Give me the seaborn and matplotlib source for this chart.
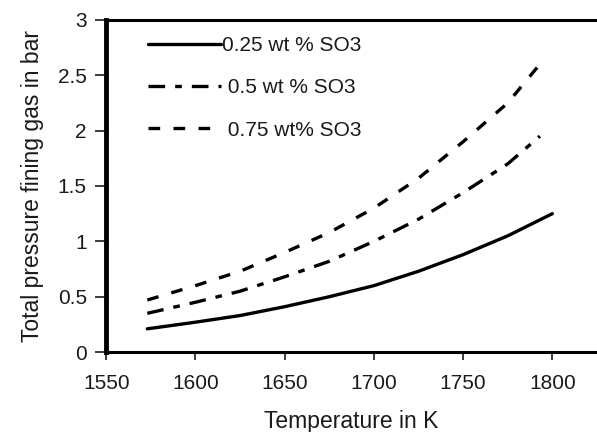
import pandas as pd
import matplotlib.pyplot as plt
import seaborn as sns

# Values
temps = [1573, 1600, 1625, 1650, 1675, 1700, 1725, 1750, 1775, 1793]
temps_low = [1573, 1600, 1625, 1650, 1675, 1700, 1725, 1750, 1775, 1800]
p_025 = [0.21, 0.27, 0.33, 0.41, 0.50, 0.60, 0.73, 0.88, 1.05, 1.25]
p_050 = [0.35, 0.45, 0.55, 0.68, 0.82, 1.00, 1.20, 1.44, 1.70, 1.95]
p_075 = [0.47, 0.60, 0.73, 0.90, 1.08, 1.30, 1.57, 1.90, 2.25, 2.60]
labels = ["0.25 wt % SO3", " 0.5 wt % SO3", " 0.75 wt% SO3"]


def build_frame():
    frames = [
        pd.DataFrame({"T": temps_low, "p": p_025, "series": labels[0]}),
        pd.DataFrame({"T": temps, "p": p_050, "series": labels[1]}),
        pd.DataFrame({"T": temps, "p": p_075, "series": labels[2]}),
    ]
    return pd.concat(frames, ignore_index=True)


def main():
    sns.set_style("ticks")
    plt.rcParams["font.family"] = ["Liberation Sans", "DejaVu Sans"]
    plt.rcParams["text.color"] = "#1a1a1a"
    plt.rcParams["axes.labelcolor"] = "#1a1a1a"
    plt.rcParams["xtick.color"] = "#1a1a1a"
    plt.rcParams["ytick.color"] = "#1a1a1a"
    df = build_frame()

    fig = plt.figure(figsize=(5.97, 4.32), dpi=100)
    ax = fig.add_axes([0.178, 0.185, 0.822, 0.769])

    styles = {labels[0]: "", labels[1]: (5, 3, 2, 3), labels[2]: (3.5, 4)}
    sns.lineplot(data=df, x="T", y="p", hue="series", style="series",
                 dashes=styles, palette=["black"] * 3, linewidth=2.4, ax=ax)

    ax.set_xlim(1550, 1825)
    ax.set_ylim(0, 3)
    ax.set_xticks([1550, 1600, 1650, 1700, 1750, 1800])
    ax.set_yticks([0, 0.5, 1, 1.5, 2, 2.5, 3])
    ax.set_yticklabels(["0", "0.5", "1", "1.5", "2", "2.5", "3"])
    ax.tick_params(labelsize=15, width=1.2)
    ax.tick_params(axis="y", length=8, pad=6)
    ax.tick_params(axis="x", length=6, pad=10)
    ax.set_xlabel("Temperature in K", fontsize=16.5, labelpad=12)
    ax.set_ylabel("Total pressure fining gas in bar", fontsize=16.5, labelpad=10)

    ax.spines["left"].set_linewidth(3.5)
    ax.spines["bottom"].set_linewidth(2.2)
    ax.spines["top"].set_linewidth(2.2)
    ax.spines["right"].set_visible(False)
    for side in ["left", "bottom", "top"]:
        ax.spines[side].set_color("black")

    leg = ax.legend(loc="upper left", bbox_to_anchor=(0.046, 1.008), frameon=False,
                    fontsize=15, handlelength=3.5, handletextpad=0.05,
                    labelspacing=1.12, title=None)
    for line in leg.get_lines():
        line.set_linewidth(2.4)

    fig.savefig("out.png", dpi=100)


if __name__ == "__main__":
    main()
